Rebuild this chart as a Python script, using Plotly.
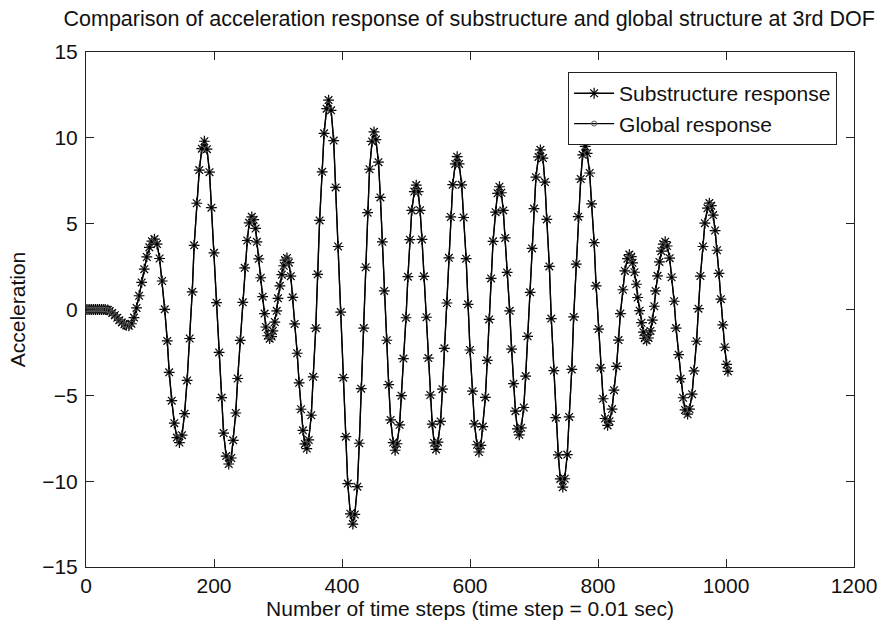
import plotly.graph_objects as go

title_text = "Comparison of acceleration response of substructure and global structure at 3rd DOF"
x_label = "Number of time steps (time step = 0.01 sec)"
y_label = "Acceleration"
series_names = ["Substructure response", "Global response"]
x_ticks = [0, 200, 400, 600, 800, 1000, 1200]
y_ticks = [-15, -10, -5, 0, 5, 10, 15]

# time step index
time_steps = [
    0, 3, 6, 9, 12, 15, 18, 21, 24, 27, 30,
    34, 37, 41, 45, 49, 52, 56, 60, 63, 67,
    71, 75, 79, 83, 87, 91, 95, 99, 103, 107,
    111, 115, 119, 123, 127, 130, 134, 138, 142, 146,
    150, 154, 158, 162, 166, 169, 173, 177, 181, 185,
    189, 193, 196, 200, 204, 208, 212, 215, 219, 223,
    227, 230, 234, 237, 241, 245, 248, 252, 255, 259,
    262, 265, 267, 270, 273, 276, 279, 281, 284, 287,
    290, 292, 295, 298, 300, 303, 306, 309, 311, 314,
    317, 320, 323, 326, 330, 333, 336, 339, 342, 345,
    348, 352, 355, 359, 362, 365, 369, 372, 376, 379,
    383, 387, 390, 394, 398, 402, 406, 409, 413, 417,
    420, 424, 427, 430, 434, 437, 440, 443, 447, 450,
    453, 457, 460, 463, 466, 470, 473, 476, 480, 483,
    486, 490, 493, 496, 500, 503, 506, 509, 513, 516,
    519, 522, 525, 528, 532, 535, 538, 541, 544, 547,
    550, 554, 557, 560, 564, 567, 570, 573, 577, 580,
    583, 587, 590, 594, 597, 600, 604, 607, 611, 614,
    617, 620, 624, 627, 630, 633, 636, 640, 643, 646,
    649, 652, 655, 658, 662, 665, 668, 671, 674, 677,
    680, 684, 687, 690, 694, 697, 700, 703, 707, 710,
    714, 717, 720, 724, 727, 731, 734, 738, 741, 745,
    748, 752, 755, 759, 762, 766, 769, 773, 776, 780,
    783, 787, 790, 794, 797, 801, 804, 808, 811, 815,
    818, 822, 825, 829, 832, 835, 839, 842, 846, 849,
    852, 854, 857, 860, 862, 865, 868, 871, 873, 876,
    879, 882, 885, 888, 890, 893, 896, 899, 902, 905,
    908, 912, 915, 919, 922, 926, 929, 933, 936, 940,
    943, 947, 950, 954, 957, 960, 964, 967, 971, 974,
    977, 980, 983, 986, 989, 992, 995, 998, 1001, 1003,
]

substructure_response = [
    0, 0, 0, 0, 0, 0, 0, 0, 0, 0, 0,
    -0.02, -0.09, -0.2, -0.33, -0.48, -0.62, -0.75, -0.86, -0.93, -0.95,
    -0.83, -0.47, 0.09, 0.80, 1.58, 2.35, 3.06, 3.62, 3.98, 4.1,
    3.81, 2.97, 1.66, 0.01, -1.83, -3.66, -5.31, -6.62, -7.46, -7.75,
    -7.32, -6.07, -4.13, -1.69, 1.03, 3.74, 6.19, 8.12, 9.37, 9.8,
    9.34, 8.0, 5.93, 3.3, 0.4, -2.5, -5.13, -7.2, -8.54, -9.0,
    -8.65, -7.62, -6.03, -4.02, -1.8, 0.42, 2.43, 4.02, 5.05, 5.4,
    5.23, 4.72, 3.94, 2.95, 1.85, 0.75, -0.24, -1.02, -1.53, -1.7,
    -1.58, -1.25, -0.73, -0.08, 0.65, 1.38, 2.03, 2.55, 2.88, 3.0,
    2.73, 1.94, 0.71, -0.84, -2.55, -4.27, -5.81, -7.04, -7.83, -8.1,
    -7.6, -6.16, -3.92, -1.09, 2.05, 5.19, 8.02, 10.26, 11.7, 12.2,
    11.6, 9.84, 7.11, 3.67, -0.15, -3.97, -7.41, -10.14, -11.9, -12.5,
    -11.94, -10.32, -7.79, -4.61, -1.08, 2.46, 5.64, 8.17, 9.79, 10.35,
    9.9, 8.58, 6.53, 3.94, 1.08, -1.79, -4.38, -6.43, -7.75, -8.2,
    -7.82, -6.72, -5.02, -2.86, -0.48, 1.91, 4.07, 5.77, 6.87, 7.25,
    6.87, 5.78, 4.08, 1.93, -0.45, -2.83, -4.98, -6.68, -7.77, -8.15,
    -7.73, -6.52, -4.64, -2.26, 0.38, 3.01, 5.39, 7.27, 8.48, 8.9,
    8.48, 7.26, 5.36, 2.96, 0.3, -2.36, -4.76, -6.66, -7.88, -8.3,
    -7.92, -6.82, -5.12, -2.96, -0.58, 1.81, 3.97, 5.67, 6.77, 7.15,
    6.8, 5.77, 4.17, 2.16, -0.08, -2.31, -4.32, -5.92, -6.95, -7.3,
    -6.89, -5.71, -3.88, -1.56, 1.0, 3.56, 5.88, 7.71, 8.89, 9.3,
    8.82, 7.42, 5.25, 2.51, -0.53, -3.56, -6.3, -8.47, -9.87, -10.35,
    -9.86, -8.45, -6.26, -3.49, -0.43, 2.64, 5.41, 7.6, 9.01, 9.5,
    9.1, 7.95, 6.15, 3.89, 1.38, -1.14, -3.4, -5.2, -6.35, -6.75,
    -6.51, -5.8, -4.7, -3.31, -1.78, -0.24, 1.15, 2.25, 2.96, 3.2,
    3.08, 2.72, 2.17, 1.47, 0.7, -0.07, -0.77, -1.32, -1.68, -1.8,
    -1.66, -1.25, -0.62, 0.19, 1.08, 1.96, 2.77, 3.4, 3.81, 3.95,
    3.7, 2.99, 1.88, 0.48, -1.08, -2.63, -4.03, -5.14, -5.85, -6.1,
    -5.8, -4.93, -3.57, -1.85, 0.05, 1.95, 3.67, 5.03, 5.9, 6.2,
    6.05, 5.5, 4.6, 3.45, 2.1, 0.6, -0.9, -2.2, -3.2, -3.6,
]

# the global response coincides with the substructure response in the picture
global_response = list(substructure_response)

FONT = "Liberation Sans, Arial, Helvetica, sans-serif"
FS = 21

fig = go.Figure()
fig.add_trace(go.Scatter(
    x=time_steps, y=substructure_response, name=series_names[0],
    mode="lines+markers",
    line=dict(color="black", width=1.3),
    marker=dict(symbol="asterisk-open", size=9, color="black",
                line=dict(color="black", width=1.2)),
))
fig.add_trace(go.Scatter(
    x=time_steps, y=global_response, name=series_names[1],
    mode="lines+markers",
    line=dict(color="black", width=1.3),
    marker=dict(symbol="circle-open", size=5, color="#555555",
                line=dict(color="#555555", width=1)),
))

axis_common = dict(
    showline=True, linecolor="#222222", linewidth=1,
    mirror="allticks", ticks="inside", ticklen=8, tickwidth=1,
    tickcolor="#222222", showgrid=False, zeroline=False,
    automargin=False,
    tickfont=dict(family=FONT, size=FS, color="#111111"),
)

fig.update_layout(
    width=882, height=623,
    margin=dict(l=86, r=28, t=52, b=56, autoexpand=False),
    paper_bgcolor="white", plot_bgcolor="white",
    font=dict(family=FONT, size=FS, color="#111111"),
    title=dict(text=title_text, x=0.532, xanchor="center",
               y=1 - 18 / 623, yanchor="middle", yref="container",
               font=dict(family=FONT, size=21.5, color="#111111")),
    xaxis=dict(range=[0, 1200], tickvals=x_ticks,
               title=dict(text=x_label, standoff=4,
                          font=dict(family=FONT, size=FS)),
               **axis_common),
    yaxis=dict(range=[-15, 15], tickvals=y_ticks, ticklabelstandoff=3,
               title=dict(text=y_label, standoff=10,
                          font=dict(family=FONT, size=FS)),
               **axis_common),
    legend=dict(x=0.978, y=0.961, xanchor="right", yanchor="top",
                bgcolor="white", bordercolor="#222222", borderwidth=1,
                font=dict(family=FONT, size=FS, color="#111111"),
                itemwidth=40, tracegroupgap=0),
    showlegend=True,
)

fig.write_html(
    "out.html",
    config={"displayModeBar": False},
    post_script="document.body.style.margin='0';document.body.style.overflow='hidden';",
)
